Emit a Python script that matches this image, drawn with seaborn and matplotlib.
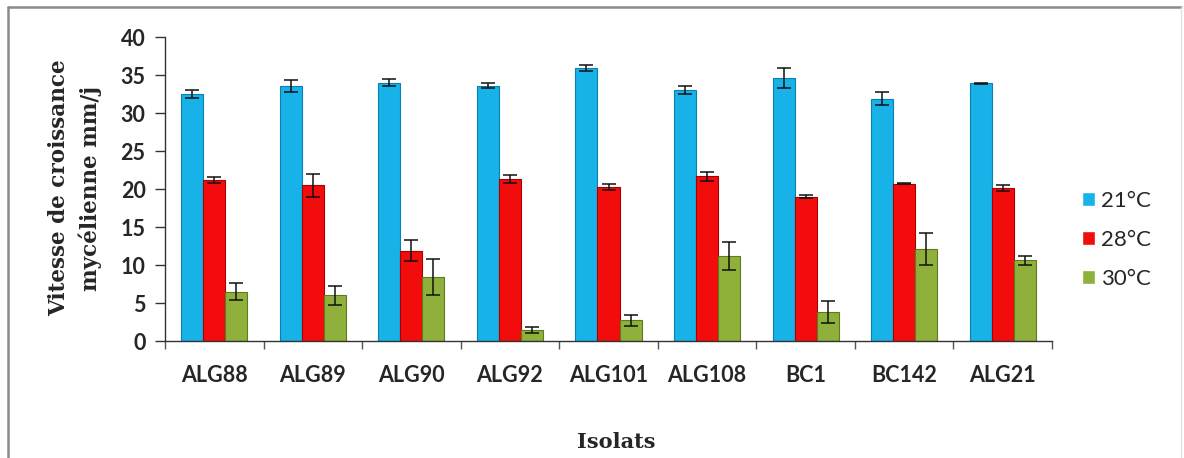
import matplotlib
matplotlib.use("Agg")
import matplotlib.pyplot as plt
from matplotlib.lines import Line2D
import numpy as np
import pandas as pd
import seaborn as sns

isolats = ["ALG88", "ALG89", "ALG90", "ALG92", "ALG101", "ALG108", "BC1", "BC142", "ALG21"]
temperatures = ["21°C", "28°C", "30°C"]

v21 = [32.5, 33.5, 34.0, 33.6, 35.9, 33.0, 34.6, 31.9, 33.9]
v28 = [21.2, 20.5, 11.9, 21.3, 20.3, 21.7, 19.0, 20.7, 20.1]
v30 = [6.5, 6.0, 8.4, 1.45, 2.7, 11.2, 3.8, 12.1, 10.6]

e21 = [0.5, 0.8, 0.5, 0.3, 0.4, 0.5, 1.3, 0.8, 0.1]
e28 = [0.4, 1.5, 1.4, 0.5, 0.4, 0.6, 0.2, 0.1, 0.4]
e30 = [1.1, 1.2, 2.4, 0.4, 0.7, 1.8, 1.4, 2.1, 0.6]

colors = ["#17B2E8", "#F20C0C", "#8FB03A"]
edges = ["#0A7FB0", "#A80000", "#5E7A1E"]

df = pd.DataFrame({
    "Isolat": isolats * 3,
    "Temp": [t for t in temperatures for _ in isolats],
    "Vitesse": v21 + v28 + v30,
    "Err": e21 + e28 + e30,
})

sns.set_style("white")
plt.rcParams["font.family"] = ["Lato", "DejaVu Sans"]
serif = ["DejaVu Serif"]

fig = plt.figure(figsize=(11.84, 4.58), dpi=100)
ax = fig.add_axes([165 / 1184, 1 - 341 / 458, (1052 - 165) / 1184, (341 - 37) / 458])

sns.barplot(data=df, x="Isolat", y="Vitesse", hue="Temp", order=isolats,
            hue_order=temperatures, palette=colors, width=0.67, gap=0,
            errorbar=None, ax=ax, legend=True, saturation=1)

# colour edges and error bars per series
for cont, ec, errs in zip(ax.containers, edges, [e21, e28, e30]):
    xs, ys = [], []
    for p in cont.patches:
        p.set_edgecolor(ec)
        p.set_linewidth(0.8)
        xs.append(p.get_x() + p.get_width() / 2)
        ys.append(p.get_height())
    ax.errorbar(xs, ys, yerr=errs, fmt="none", ecolor="#111111",
                elinewidth=1.1, capsize=5, capthick=1.1, zorder=5)

ax.set_ylim(0, 40)
ax.set_yticks(np.arange(0, 41, 5))
ax.set_xlim(-0.5, len(isolats) - 0.5)

# major ticks on group boundaries, labels on group centres
ax.set_xticks(np.arange(-0.5, len(isolats) + 0.5, 1.0))
ax.set_xticklabels([])
ax.set_xticks(np.arange(len(isolats)), minor=True)
ax.set_xticklabels(isolats, minor=True, fontsize=15.5, fontweight="bold")
ax.tick_params(axis="x", which="major", direction="out", length=6, width=1,
               color="#555555", bottom=True)
ax.tick_params(axis="x", which="minor", length=0, pad=17)
ax.tick_params(axis="y", direction="out", length=7, width=1, color="#333333",
               pad=7, left=True)
for lab in ax.get_yticklabels():
    lab.set_fontsize(15.5)
    lab.set_fontweight("bold")

ax.set_xlabel("")
ax.set_ylabel("")
for s in ["top", "right"]:
    ax.spines[s].set_visible(False)
ax.spines["left"].set_color("#333333")
ax.spines["bottom"].set_color("#333333")
ax.spines["left"].set_linewidth(1)
ax.spines["bottom"].set_linewidth(1)

handles, labels = ax.get_legend_handles_labels()
ax.legend(handles, labels, loc="center left",
          bbox_to_anchor=(1062 / 1184, 1 - 240 / 458),
          bbox_transform=fig.transFigure, frameon=False,
          fontsize=16, handlelength=0.6, handleheight=0.6,
          handletextpad=0.25, labelspacing=0.85)

fig.text(75 / 1184, 1 - 188 / 458, "Vitesse de croissance\nmycélienne mm/j",
         rotation=90, ha="center", va="center", fontsize=15.5,
         fontweight="bold", family=serif, linespacing=1.45)
fig.text(616 / 1184, 1 - 442 / 458, "Isolats", ha="center", va="center",
         fontsize=15, fontweight="bold", family=serif)

# outer frame around the chart area
frame_kw = dict(transform=fig.transFigure, color="#8A8A8A", linewidth=1.8)
fig.add_artist(Line2D([8 / 1184, 1181 / 1184], [1 - 7 / 458, 1 - 7 / 458], **frame_kw))
fig.add_artist(Line2D([8 / 1184, 8 / 1184], [1 - 7 / 458, 0], **frame_kw))
fig.add_artist(Line2D([1181 / 1184, 1181 / 1184], [1 - 7 / 458, 0],
                      transform=fig.transFigure, color="#E2E2E2", linewidth=1))

fig.savefig("out.png", dpi=100)
